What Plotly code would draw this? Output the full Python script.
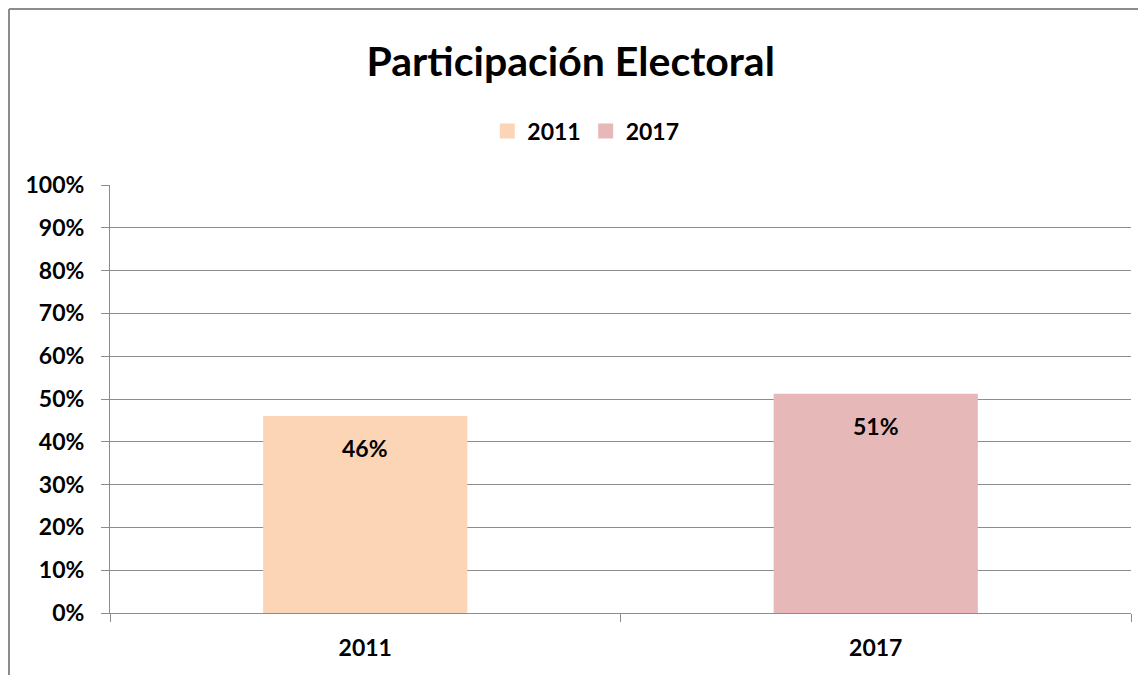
'''
Bar chart of electoral turnout, Excel-like styling, built with Plotly.
'''
import plotly.graph_objects as go

# data
years = ["2011", "2017"]
turnout = [0.46, 0.512]
labels = ["46%", "51%"]
colors = ["#FBD5B5", "#E6B9B8"]
y_ticks = [i / 10 for i in range(11)]
y_tick_text = [f"{i * 10}%" for i in range(11)]

FONT = "Lato"
GRID = "#8C8C8C"

fig = go.Figure()

# bars, one trace per year
for year, val, col in zip(years, turnout, colors):
    fig.add_trace(go.Bar(
        x=[year],
        y=[val],
        name=year,
        marker=dict(color=col, line=dict(width=0)),
        width=0.4,
        showlegend=False,
    ))

# legend entries drawn as square markers (bigger than the bar legend icon)
for year, col in zip(years, colors):
    fig.add_trace(go.Scatter(
        x=[None], y=[None], mode="markers", name=year,
        marker=dict(symbol="square", size=15, color=col),
    ))

# data labels just below the top of each bar (category index for x)
for i, (val, lab) in enumerate(zip(turnout, labels)):
    fig.add_annotation(
        x=i, y=val, text=lab, showarrow=False,
        yshift=-32, font=dict(family=FONT, size=23, color="black", weight="bold")
    )

# outer chart frame: only its left and top edges fall inside the window
frame_x = -101 / 1021
frame_y = 1 + 176 / 428
frame = [
    dict(type="line", xref="paper", yref="paper",
         x0=frame_x, x1=frame_x, y0=-0.3, y1=frame_y,
         line=dict(color=GRID, width=2)),
    dict(type="line", xref="paper", yref="paper",
         x0=frame_x, x1=1.3, y0=frame_y, y1=frame_y,
         line=dict(color=GRID, width=2)),
]

fig.update_layout(
    width=1146,
    height=675,
    # page body adds 8px, so plot area lands at 110..1131 x 185..613
    margin=dict(l=102, r=23, t=177, b=70, autoexpand=False),
    paper_bgcolor="white",
    plot_bgcolor="white",
    barmode="overlay",
    font=dict(family=FONT, color="black"),
    title={
        'text': "<b>Participación Electoral</b>",
        'x': 0.491,  # center title
        'xanchor': 'center',
        'y': 0.92,
        'yanchor': 'middle',
        'font': {'size': 41, 'family': FONT, 'color': 'black'}
    },
    legend=dict(
        orientation="h",
        x=0.466,
        xanchor="center",
        y=1.126,
        yanchor="middle",
        font=dict(family=FONT, size=23, color="black", weight="bold"),
        itemwidth=30,
        bgcolor="rgba(0,0,0,0)",
    ),
    xaxis=dict(
        type="category",
        categoryorder="array",
        categoryarray=years,
        range=[-0.5, 1.5],
        tickson="boundaries",
        ticks="outside",
        ticklen=8,
        tickcolor=GRID,
        showline=True,
        linecolor=GRID,
        linewidth=1,
        showgrid=False,
        tickangle=0,
        automargin=False,
        ticklabelstandoff=14,
        tickfont=dict(family=FONT, size=23, color="black", weight="bold"),
        fixedrange=True,
    ),
    yaxis=dict(
        range=[0, 1],
        tickvals=y_ticks,
        ticktext=y_tick_text,
        ticks="outside",
        ticklen=8,
        tickcolor=GRID,
        showline=True,
        linecolor=GRID,
        linewidth=1,
        showgrid=True,
        gridcolor=GRID,
        gridwidth=1,
        zeroline=False,
        automargin=False,
        ticklabelstandoff=12,
        tickfont=dict(family=FONT, size=23, color="black", weight="bold"),
        fixedrange=True,
    ),
    shapes=frame,
)

fig.write_html("out.html", config={"displayModeBar": False})
